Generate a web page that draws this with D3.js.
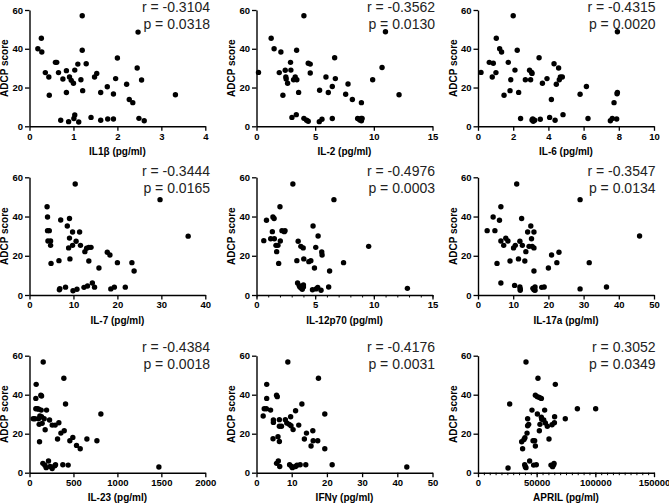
<!DOCTYPE html>
<html><head><meta charset="utf-8">
<script src="https://cdn.jsdelivr.net/npm/d3@7"></script>
<style>
body{margin:0;background:#fff}
text{font-family:Arial,"Liberation Sans",Helvetica,sans-serif}
</style>
</head><body>
<svg id="c" width="669" height="504"></svg>
<script>
// ---- data: [cytokine value, ADCP score] ----
const il1b = [[0.19,40],[0.27,45.4],[0.28,38.3],[0.36,27.7],[0.44,25.4],[0.45,16],[0.59,33],[0.62,33],[0.66,27.7],[0.76,24.4],[0.84,28.7],[0.84,17.4],[0.91,25.4],[0.95,23.7],[1.0,22.2],[1.03,29],[1.10,32.1],[1.17,24],[1.20,39.2],[1.20,57],[1.21,18.4],[1.29,32.3],[1.48,25.4],[1.53,27.3],[1.62,17.4],[1.77,20.4],[2.0,35.2],[1.96,24.6],[1.91,16.7],[2.21,21.7],[2.27,13.8],[2.35,12.2],[2.45,30.1],[2.47,48.6],[2.55,23.9],[3.32,16.3],[0.71,3.1],[0.89,2.4],[1.01,4.0],[1.03,5.8],[1.12,2.2],[1.40,4.6],[1.62,3.1],[1.78,3.8],[1.91,3.8],[2.49,4.1],[2.61,2.9]];
const il2 = [[0.17,27.8],[1.25,45.4],[1.5,40],[2.08,38.3],[1.94,27.7],[2.25,16],[2.45,28.9],[2.5,25.4],[2.53,24.4],[2.65,22.2],[2.9,33],[2.93,29],[3.16,24],[3.3,25.4],[3.44,24],[3.42,39.2],[3.59,17.5],[4.04,57],[4.41,32.5],[4.58,32.1],[4.58,27.5],[5.38,18.6],[5.92,25.4],[6.12,17.4],[6.46,20.5],[6.66,35.4],[6.72,24.6],[7.6,16.5],[7.8,21.8],[8.17,13.8],[8.94,12.2],[9.9,24],[10.7,30.3],[10.99,48.8],[12.15,16.3],[3.02,4.6],[3.39,6],[4.04,4.1],[4.27,3.1],[4.41,2.6],[5.35,2.4],[5.58,3.6],[6.46,4],[8.62,4],[8.8,3.3],[8.91,4],[8.94,2.9],[9.0,4]];
const il6 = [[0.17,27.8],[0.64,33],[0.87,32.5],[0.81,25.4],[1.02,27.7],[1.04,45.4],[1.23,40],[1.34,38.3],[1.48,16],[1.72,33],[1.82,18.4],[1.86,24],[2.0,57],[2.1,29],[2.23,39.2],[2.31,17.5],[2.42,4],[2.69,24],[2.93,28.9],[2.99,24],[3.05,27.8],[3.07,27.3],[3.07,3.3],[3.11,3.8],[3.14,2.6],[3.22,3.1],[3.47,35.4],[3.54,3.6],[3.66,22.2],[3.92,24.6],[4.07,4.6],[4.17,13.8],[4.32,32.3],[4.38,3.1],[4.45,21.7],[4.58,30.1],[4.62,24],[4.68,25.4],[4.79,25.4],[4.83,6],[5.8,16.5],[6.16,20.5],[6.25,4],[7.52,2.9],[7.63,4],[7.73,12.2],[7.92,48.8],[7.9,16.8],[7.92,17.5],[7.88,3.8]];
const il7 = [[4.0,45],[4.1,39.8],[4.1,32.8],[4.5,32.8],[4.2,27.5],[4.8,27.5],[4.8,25.3],[4.9,16.1],[7.1,38.2],[6.7,17.5],[8.6,35.2],[9.1,39],[9.1,29],[8.9,24],[9.2,18.4],[9.8,32.1],[9.8,25.3],[10.4,56.6],[10.6,27.4],[11.4,32.1],[11.6,25.3],[12.6,22.1],[13.0,23.8],[13.5,24.3],[14.0,24.3],[13.5,17.3],[15.8,13.8],[17.7,21.8],[18.3,20.4],[20.0,16.5],[23.3,16.5],[23.8,12.2],[29.7,48.6],[36.1,30],[6.8,2.7],[6.9,3.2],[8.2,4],[9.9,2.2],[10.8,2.9],[12.4,3.9],[13.2,4.6],[14.3,6.1],[14.8,4],[18.5,3.1],[19.3,4],[21.8,4]];
const il12p70 = [[0.62,27.7],[0.85,38.1],[1.21,28.7],[1.35,32.3],[1.4,39.8],[1.5,39],[1.52,28.7],[1.66,25.3],[1.72,22.1],[1.83,25.3],[1.89,16.1],[2.03,27.5],[2.0,45],[2.17,32.8],[2.37,32.3],[2.43,32.8],[3.1,56.6],[3.44,17.5],[3.55,27.4],[3.78,24.8],[3.98,24],[4.03,18.4],[4.46,17],[4.63,17.5],[4.82,35.2],[4.94,13.8],[5.05,24.3],[5.25,30.1],[5.56,21.9],[5.59,20.4],[6.23,12.2],[6.6,48.6],[7.42,16.5],[9.56,24.8],[12.86,3.4],[3.5,6.1],[3.64,4.8],[3.7,4.1],[3.81,3.6],[3.9,2.9],[4.0,4.1],[4.0,5.1],[4.77,2.7],[5.08,3.1],[5.22,3.9],[5.5,2.4],[6.15,4.1]];
const il17a = [[2.6,32.8],[4.3,39.8],[4.8,32.8],[5.4,16.1],[6.1,38.1],[6.5,45],[6.5,27.5],[6.5,6.1],[7.3,25.3],[7.9,28.9],[8.5,27.5],[9.1,17.3],[10.1,24],[10.4,4.9],[10.6,25.3],[11.0,56.6],[11.5,18.4],[11.9,27.4],[11.9,4.1],[12.0,3.1],[12.0,2.4],[12.4,39],[12.6,25.3],[13.3,17.3],[13.6,22.1],[14.1,32.1],[14.5,24.8],[15.0,35.2],[15.2,28.7],[15.4,24.8],[15.9,32.1],[15.9,24],[15.9,12.2],[15.6,3.4],[15.9,2.7],[16.2,4.1],[16.2,2.4],[18.1,3.9],[18.8,4.1],[20.0,13.8],[20.9,20.4],[22.4,16.5],[23.0,21.8],[29.0,48.6],[29.0,3.1],[31.6,16.5],[36.5,4.1],[45.9,30.1]];
const il23 = [[42,27.7],[61,27.7],[76,45.3],[72,38.1],[72,32.8],[91,32.8],[106,32.6],[102,27.7],[118,29.1],[110,24.8],[129,39.7],[137,39.3],[114,15.9],[133,32.1],[144,25.3],[137,28.7],[156,56.8],[167,27.7],[178,22],[194,32.1],[228,27],[258,24.4],[292,24.4],[319,17.3],[334,25.6],[357,20.3],[391,48.4],[395,21.5],[410,35.2],[459,16.4],[493,18.1],[535,14],[577,12.3],[653,17.3],[767,16.4],[812,30.1],[1472,2.9],[152,4.8],[175,3.8],[190,2.6],[216,6],[235,3.2],[258,2.1],[288,3.6],[296,4.1],[379,4.1],[440,3.9]];
const ifng = [[1.9,29.1],[2.2,32.8],[2.8,32.8],[2.9,45.3],[2.9,38.1],[4.0,32.1],[4.8,27],[4.8,25.8],[4.7,17.4],[5.7,39.7],[5.9,39],[5.7,4.8],[6.1,18.5],[6.5,27.2],[6.5,23.8],[6.2,6],[6.5,16],[6.6,3.2],[7.1,23.8],[8.2,27.2],[8.6,25.5],[8.9,56.8],[9.3,24.8],[9.7,28.7],[9.4,4.1],[9.8,24.1],[10.0,3.2],[10.2,2.6],[10.4,22.1],[11.1,31.8],[11.1,3.2],[11.5,3.8],[12.0,24.4],[12.4,4.1],[12.9,35.2],[13.6,17.3],[14.2,20.3],[14.0,4.1],[15.5,13.7],[16.0,21.5],[16.1,16.4],[17.4,16.4],[17.6,48.4],[19.4,30.1],[19.4,12.3],[21.5,4.1],[42.7,2.9]];
const april = [[25600,2.4],[27000,35.2],[37200,15.9],[38000,12.3],[39200,17],[40000,17.9],[40900,56.8],[39800,4.1],[40300,3.1],[40900,2.6],[41800,20.3],[42300,24.1],[42300,27.7],[43200,24.8],[44000,6],[46000,32.1],[46900,16.4],[47400,3.9],[48300,16.4],[48900,13.7],[48900,39.7],[49700,4.1],[50600,39],[50600,30.1],[51100,48.4],[52300,38.6],[52300,21.5],[52800,24.8],[54000,38.1],[54000,28.4],[54300,27.4],[56000,27],[56800,32.1],[57400,25.5],[59100,23.8],[60500,17.3],[62200,3.9],[63100,24.6],[63600,3.1],[64500,4.1],[64800,4.8],[65100,25.6],[65300,28.7],[65900,45.3],[74400,27.7],[84700,32.8],[100300,32.8]];

// ---- labels / ticks ----
const xTitles = ["IL1β (pg/ml)","IL-2 (pg/ml)","IL-6 (pg/ml)","IL-7 (pg/ml)","IL-12p70 (pg/ml)","IL-17a (pg/ml)","IL-23 (pg/ml)","IFNγ (pg/ml)","APRIL (pg/ml)"];
const rLabels = ["r = -0.3104","r = -0.3562","r = -0.4315","r = -0.3444","r = -0.4976","r = -0.3547","r = -0.4384","r = -0.4176","r = 0.3052"];
const pLabels = ["p = 0.0318","p = 0.0130","p = 0.0020","p = 0.0165","p = 0.0003","p = 0.0134","p = 0.0018","p = 0.0031","p = 0.0349"];
const xTicks = [[0,1,2,3,4],[0,5,10,15],[0,2,4,6,8,10],[0,10,20,30,40],[0,5,10,15],[0,10,20,30,40,50],[0,500,1000,1500,2000],[0,10,20,30,40,50],[0,50000,100000,150000]];
const minorStep = [null,null,null,null,1,null,null,null,5000];
const yTicks = [0,20,40,60];
const yTitle = "ADCP score";
const datasets = [il1b,il2,il6,il7,il12p70,il17a,il23,ifng,april];

// ---- layout ----
const colX = [[29.5,205.3],[256.5,432.5],[478,654]];
const rowY = [[10,126.3],[177.3,295],[355.7,472.7]];
const statX = [210,435,655.5];
const statY = [[12,28.6],[175.7,192.7],[351.7,368.5]];

const svg = d3.select("#c");

datasets.forEach((data,i)=>{
  const c = i%3, r = Math.floor(i/3);
  const ticks = xTicks[i];
  const x = d3.scaleLinear().domain([ticks[0], ticks[ticks.length-1]]).range(colX[c]);
  const y = d3.scaleLinear().domain([0,60]).range([rowY[r][1], rowY[r][0]]);
  const g = svg.append("g");

  if (minorStep[i]) {
    const minors = d3.range(ticks[0], ticks[ticks.length-1]+minorStep[i]/2, minorStep[i]);
    g.append("g").attr("transform",`translate(0,${rowY[r][1]})`)
      .call(d3.axisBottom(x).tickValues(minors).tickSize(2.5).tickSizeOuter(0).tickFormat(""))
      .call(a=>a.select(".domain").remove())
      .call(a=>a.selectAll("line").attr("stroke","#000").attr("stroke-width",1));
  }
  const xa = g.append("g").attr("transform",`translate(0,${rowY[r][1]})`)
    .call(d3.axisBottom(x).tickValues(ticks).tickSize(4.5).tickPadding(2).tickSizeOuter(0).tickFormat(d3.format("d")));
  const ya = g.append("g").attr("transform",`translate(${colX[c][0]},0)`)
    .call(d3.axisLeft(y).tickValues(yTicks).tickSize(4.5).tickPadding(2).tickSizeOuter(0));
  [xa,ya].forEach(a=>{
    a.select(".domain").attr("stroke","#000").attr("stroke-width",1.4);
    a.selectAll(".tick line").attr("stroke","#000").attr("stroke-width",1.3);
    a.selectAll(".tick text").attr("fill","#000").attr("font-size","9.5px").attr("font-weight","bold")
      .attr("font-family","Arial, 'Liberation Sans', sans-serif");
  });

  g.selectAll("circle").data(data).join("circle")
    .attr("cx",d=>x(d[0])).attr("cy",d=>y(d[1])).attr("r",2.7).attr("fill","#000");

  g.append("text").attr("x",(colX[c][0]+colX[c][1])/2).attr("y",rowY[r][1]+28.5)
    .attr("text-anchor","middle").attr("font-size","10px").attr("font-weight","bold").attr("fill","#000")
    .text(xTitles[i]);
  g.append("text").attr("transform",`translate(${colX[c][0]-21.5},${(rowY[r][0]+rowY[r][1])/2}) rotate(-90)`)
    .attr("text-anchor","middle").attr("font-size","10px").attr("font-weight","bold").attr("fill","#000")
    .text(yTitle);
  g.append("text").attr("x",statX[c]).attr("y",statY[r][0]).attr("text-anchor","end")
    .attr("font-size","14px").attr("fill","#222").text(rLabels[i]);
  g.append("text").attr("x",statX[c]).attr("y",statY[r][1]).attr("text-anchor","end")
    .attr("font-size","14px").attr("fill","#222").text(pLabels[i]);
});
</script>
</body></html>
